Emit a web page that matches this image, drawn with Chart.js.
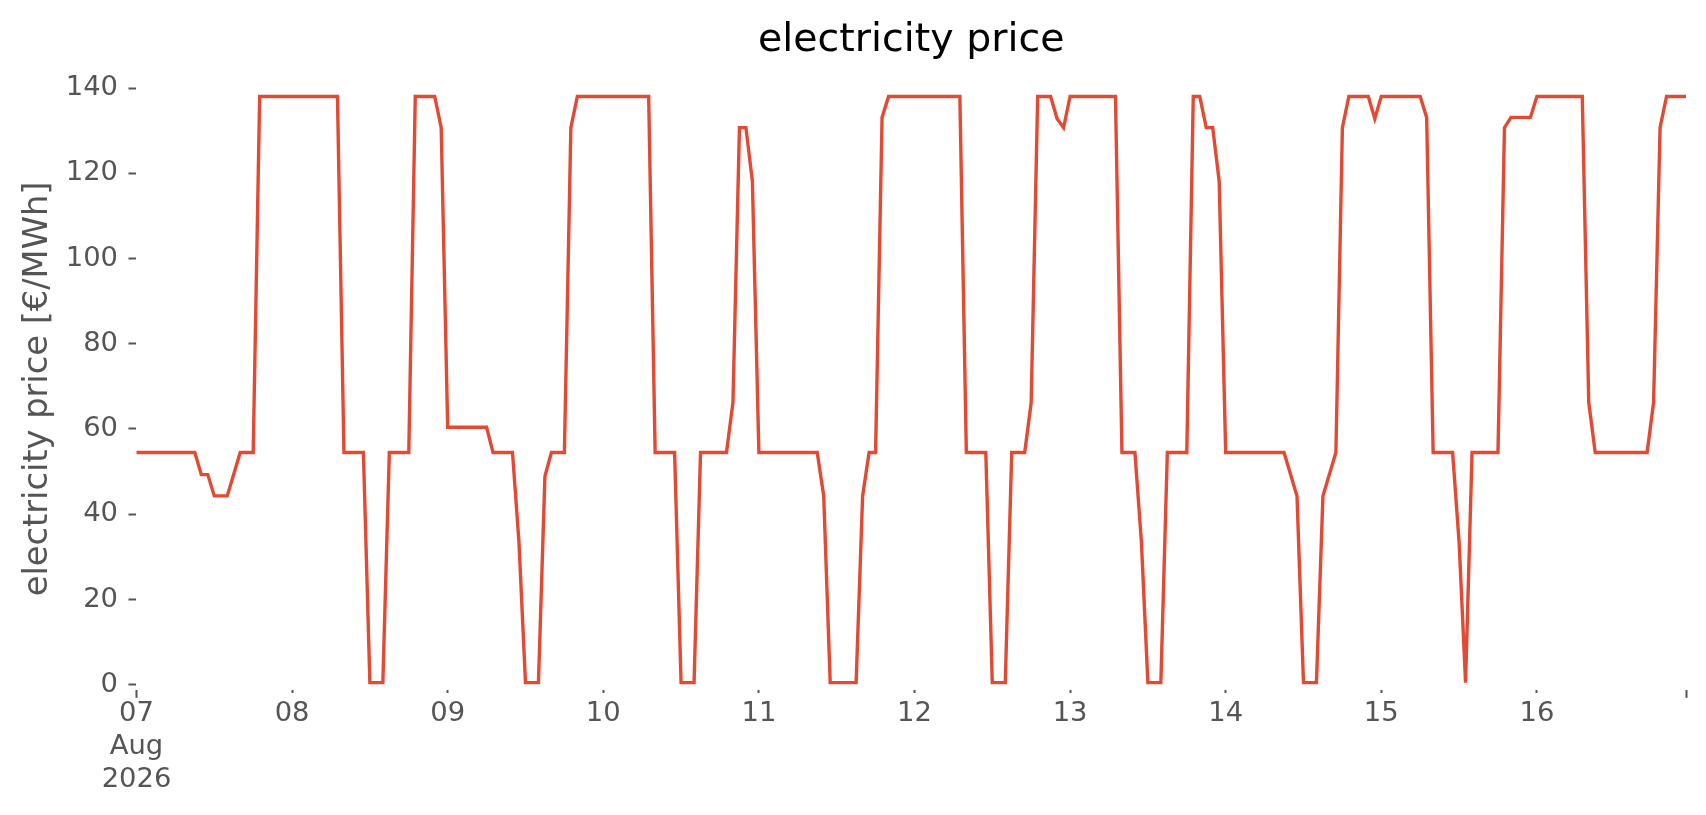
<!DOCTYPE html>
<html>
<head>
<meta charset="utf-8">
<script src="https://cdn.jsdelivr.net/npm/chart.js@4.4.1/dist/chart.umd.min.js"></script>
<style>
  html, body { margin: 0; padding: 0; background: #ffffff; }
  #wrap { width: 1706px; height: 815px; }
</style>
</head>
<body>
<div id="wrap"><canvas id="c" width="1706" height="815"></canvas></div>
<script>
// hourly electricity price, 07 Aug 2026 00:00 .. 16 Aug 2026 23:00 (one row per day)
const prices = [
  54.5,54.5,54.5,54.5,54.5,54.5,54.5,54.5,54.5,54.5,49.3,49.3,44.3,44.3,44.3,49.4,54.5,54.5,54.5,138,138,138,138,138,
  138,138,138,138,138,138,138,138,54.5,54.5,54.5,54.5,0.5,0.5,0.5,54.5,54.5,54.5,54.5,138,138,138,138,130.7,
  60.4,60.4,60.4,60.4,60.4,60.4,60.4,54.5,54.5,54.5,54.5,33.3,0.5,0.5,0.5,48.9,54.5,54.5,54.5,130.7,138,138,138,138,
  138,138,138,138,138,138,138,138,54.5,54.5,54.5,54.5,0.5,0.5,0.5,54.5,54.5,54.5,54.5,54.5,66.2,130.7,130.7,118.1,
  54.5,54.5,54.5,54.5,54.5,54.5,54.5,54.5,54.5,54.5,44.3,0.5,0.5,0.5,0.5,0.5,44.3,54.5,54.5,133.1,138,138,138,138,
  138,138,138,138,138,138,138,138,54.5,54.5,54.5,54.5,0.5,0.5,0.5,54.5,54.5,54.5,66.2,138,138,138,132.8,130.7,
  138,138,138,138,138,138,138,138,54.5,54.5,54.5,33.5,0.5,0.5,0.5,54.5,54.5,54.5,54.5,138,138,130.7,130.7,118.1,
  54.5,54.5,54.5,54.5,54.5,54.5,54.5,54.5,54.5,54.5,49.4,44.3,0.5,0.5,0.5,44.3,49.4,54.5,130.7,138,138,138,138,132.8,
  138,138,138,138,138,138,138,133.1,54.5,54.5,54.5,54.5,33.5,0.5,54.5,54.5,54.5,54.5,54.5,130.7,133.1,133.1,133.1,133.1,
  138,138,138,138,138,138,138,138,66.2,54.5,54.5,54.5,54.5,54.5,54.5,54.5,54.5,54.5,66.2,130.7,138,138,138,138
];

// x tick positions (hours since 07 Aug 00:00) and their labels
const xTickHours = [0, 24, 48, 72, 96, 120, 144, 168, 192, 216, 239];
const dayLabels  = ['07', '08', '09', '10', '11', '12', '13', '14', '15', '16', ''];
const firstTickExtra = ['Aug', '2026'];

// y ticks
const yTicks = [0, 20, 40, 60, 80, 100, 120, 140];

const hours = prices.map((_, i) => i);

const FONT = "'DejaVu Sans', 'Liberation Sans', sans-serif";
const GREY = '#555555';

new Chart(document.getElementById('c'), {
  type: 'line',
  data: {
    labels: hours,
    datasets: [{
      data: prices,
      borderColor: '#E24A33',
      borderWidth: 3.4,
      pointRadius: 0,
      pointHoverRadius: 0,
      tension: 0,
      fill: false,
      borderJoinStyle: 'miter',
      borderCapStyle: 'square'
    }]
  },
  options: {
    responsive: false,
    animation: false,
    devicePixelRatio: 1,
    layout: { padding: { left: 4, right: 20, top: 0, bottom: 18.5 } },
    plugins: {
      legend: { display: false },
      tooltip: { enabled: false },
      title: {
        display: true,
        fullSize: false,
        text: 'electricity price',
        color: '#000000',
        font: { family: FONT, size: 39.5, weight: 'normal' },
        padding: { top: 17, bottom: 23.6 }
      }
    },
    scales: {
      x: {
        type: 'linear',
        min: 0,
        max: 239,
        afterBuildTicks: axis => { axis.ticks = xTickHours.map(v => ({ value: v })); },
        border: { display: false },
        grid: {
          display: true,
          drawOnChartArea: false,
          drawTicks: true,
          tickLength: 8,
          tickWidth: 2,
          tickColor: GREY,
          tickBorderDash: ctx => (ctx.index === 0 || ctx.index === xTickHours.length - 1) ? [] : [3, 20]
        },
        ticks: {
          autoSkip: false,
          maxRotation: 0,
          minRotation: 0,
          padding: 0,
          color: GREY,
          font: { family: FONT, size: 27.4, lineHeight: 1.2 },
          callback: (value, index) => {
            const i = xTickHours.indexOf(value);
            if (i < 0) return '';
            if (i === 0) return [dayLabels[0]].concat(firstTickExtra);
            return dayLabels[i];
          }
        }
      },
      y: {
        min: -1.2,
        max: 140,
        afterBuildTicks: axis => { axis.ticks = yTicks.map(v => ({ value: v })); },
        border: { display: false },
        grid: {
          display: true,
          drawOnChartArea: false,
          drawTicks: true,
          tickLength: 8,
          tickWidth: 2,
          tickColor: GREY
        },
        ticks: {
          padding: 10.5,
          color: GREY,
          font: { family: FONT, size: 27.4 },
          callback: v => String(v)
        },
        title: {
          display: true,
          text: 'electricity price [€/MWh]',
          color: GREY,
          font: { family: FONT, size: 33.7, weight: 'normal', lineHeight: 1.0 },
          padding: { top: 17.5, bottom: 0 }
        }
      }
    }
  }
});
</script>
</body>
</html>
